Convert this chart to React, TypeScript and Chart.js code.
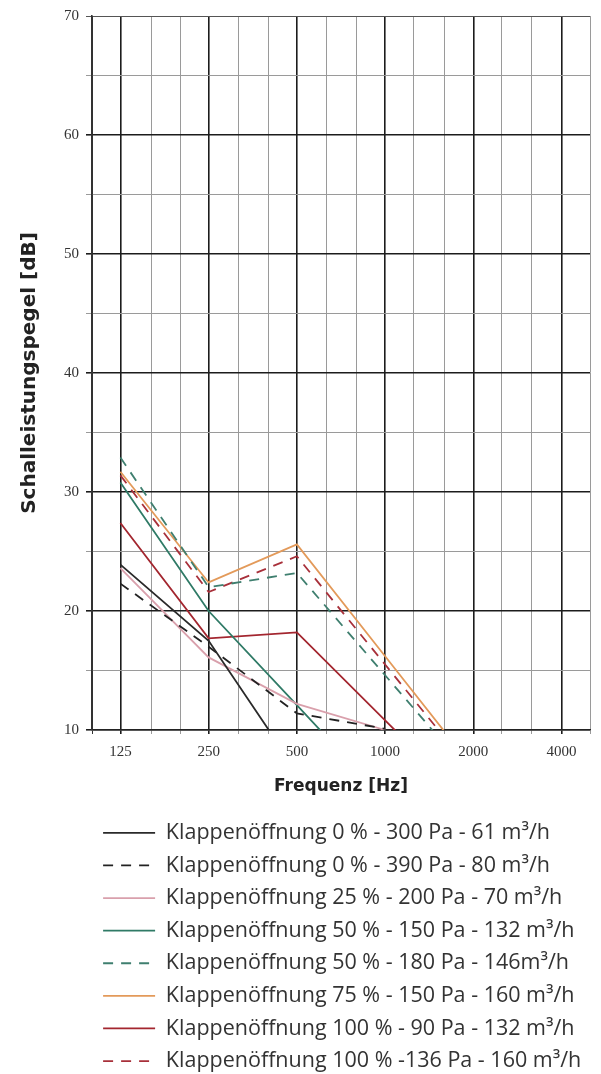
import React, { useEffect, useRef } from "react";
import { Chart, registerables } from "chart.js";

Chart.register(...registerables);

// Octave band centre frequencies (Hz) at which the curves are given
const frequencies = [125, 250, 500, 1000, 2000, 4000];
// Labelled x ticks
const octaveTickLabels = [125, 250, 500, 1000, 2000, 4000];
// 1/3-octave grid lines of the diagram paper
const thirdOctaveGrid = [100, 125, 160, 200, 250, 315, 400, 500, 630, 800, 1000, 1250, 1600, 2000, 2500, 3150, 4000, 5000];
// y axis
const yMin = 10;
const yMax = 70;
const yStep = 5;

// Series (sound power level, dB); values below 10 dB run out of the diagram
const seriesLabels = [
  "Klappenöffnung 0 % - 300 Pa - 61 m³/h",
  "Klappenöffnung 0 % - 390 Pa - 80 m³/h",
  "Klappenöffnung 25 % - 200 Pa - 70 m³/h",
  "Klappenöffnung 50 % - 150 Pa - 132 m³/h",
  "Klappenöffnung 50 % - 180 Pa - 146m³/h",
  "Klappenöffnung 75 % - 150 Pa - 160 m³/h",
  "Klappenöffnung 100 % - 90 Pa - 132 m³/h",
  "Klappenöffnung 100 % -136 Pa - 160 m³/h",
];
const open0_300 = [23.9, 17.5, 6.5, null, null, null];
const open0_390 = [22.3, 17.0, 11.4, 10.1, null, null];
const open25_200 = [23.6, 16.1, 12.2, 10.0, null, null];
const open50_150 = [30.8, 20.0, 12.1, 4.1, null, null];
const open50_180 = [32.9, 22.0, 23.2, 14.6, 6.0, null];
const open75_150 = [31.7, 22.4, 25.6, 16.2, 6.8, null];
const open100_90 = [27.4, 17.7, 18.2, 10.8, 3.5, null];
const open100_136 = [31.4, 21.6, 24.6, 15.5, 6.4, null];

const seriesValues = [open0_300, open0_390, open25_200, open50_150, open50_180, open75_150, open100_90, open100_136];
const seriesColors = ["#2a2a2a", "#222222", "#d9a0ac", "#2f7a66", "#3f7f6f", "#e39a5a", "#a3262f", "#a8303a"];
const seriesDashed = [false, true, false, false, true, false, false, true];

export default function App() {
  const canvasRef = useRef<HTMLCanvasElement | null>(null);

  useEffect(() => {
    document.body.style.overflow = "hidden";
    const canvas = canvasRef.current;
    if (!canvas) return;

    const datasets = seriesLabels.map((label, i) => ({
      label,
      data: frequencies.map((f, j) => ({ x: f, y: seriesValues[i][j] })),
      borderColor: seriesColors[i],
      backgroundColor: seriesColors[i],
      borderWidth: 1.8,
      borderDash: seriesDashed[i] ? [10, 8] : [],
      pointRadius: 0,
      tension: 0,
      spanGaps: false,
    }));

    const chart = new Chart(canvas, {
      type: "line",
      data: { datasets },
      options: {
        animation: false,
        responsive: true,
        maintainAspectRatio: false,
        layout: { padding: { left: 4, right: 3, top: 8, bottom: 2 } },
        plugins: {
          tooltip: { enabled: false },
          legend: {
            position: "bottom",
            fullSize: false,
            align: "start",
            maxHeight: 261,
            labels: {
              usePointStyle: true,
              pointStyle: "line",
              pointStyleWidth: 52,
              boxHeight: 21.5,
              padding: 11.1,
              color: "#333333",
              font: { family: "Open Sans", size: 21.5 },
              generateLabels: (c: any) => {
                const items = Chart.defaults.plugins.legend.labels.generateLabels(c);
                return items.map((it: any) => {
                  const ds: any = c.data.datasets[it.datasetIndex];
                  return {
                    ...it,
                    strokeStyle: ds.borderColor,
                    fillStyle: ds.borderColor,
                    lineWidth: ds.borderWidth,
                    lineDash: ds.borderDash,
                    lineDashOffset: 0,
                  };
                });
              },
            },
          },
        },
        scales: {
          x: {
            type: "logarithmic",
            min: thirdOctaveGrid[0],
            max: thirdOctaveGrid[thirdOctaveGrid.length - 1],
            afterBuildTicks: (scale: any) => {
              scale.ticks = thirdOctaveGrid.map((v) => ({ value: v }));
            },
            ticks: {
              autoSkip: false,
              maxRotation: 0,
              minRotation: 0,
              padding: 3,
              color: "#333333",
              font: { family: "Liberation Serif", size: 15, lineHeight: 2 },
              callback: (v: any) => (octaveTickLabels.includes(Number(v)) ? String(v) : ""),
            },
            grid: {
              tickLength: 4,
              color: (ctx: any) => {
                const v = ctx.tick ? ctx.tick.value : 0;
                if (octaveTickLabels.includes(v)) return "#1c1c1c";
                if (v === thirdOctaveGrid[0]) return "#333333";
                return "#9a9a9a";
              },
              lineWidth: (ctx: any) => {
                const v = ctx.tick ? ctx.tick.value : 0;
                return octaveTickLabels.includes(v) ? 1.6 : 1;
              },
            },
            border: { display: true, color: "#222222", width: 1.6 },
            title: {
              display: true,
              text: "Frequenz [Hz]",
              color: "#222222",
              font: { family: "DejaVu Sans", weight: "bold", size: 17 },
              padding: { top: 6, bottom: 14.6 },
            },
          },
          y: {
            type: "linear",
            min: yMin,
            max: yMax,
            ticks: {
              stepSize: yStep,
              padding: 7,
              color: "#333333",
              font: { family: "Liberation Serif", size: 15, lineHeight: 0.1 },
              callback: (v: any) => (Number(v) % 10 === 0 ? String(v) : ""),
            },
            grid: {
              tickLength: 6,
              color: (ctx: any) => {
                const v = ctx.tick ? ctx.tick.value : 0;
                if (v === yMax) return "#555555";
                return v % 10 === 0 ? "#1c1c1c" : "#9a9a9a";
              },
              lineWidth: (ctx: any) => {
                const v = ctx.tick ? ctx.tick.value : 0;
                return v % 10 === 0 && v !== yMax ? 1.6 : 1;
              },
            },
            border: { display: true, color: "#333333", width: 1.6 },
            title: {
              display: true,
              text: "Schalleistungspegel [dB]",
              color: "#222222",
              font: { family: "DejaVu Sans", weight: "bold", size: 20 },
              padding: { top: 6, bottom: 15 },
            },
          },
        },
      },
    });

    return () => {
      chart.destroy();
    };
  }, []);

  return (
    <div style={{ position: "relative", width: "100%", height: 1066 }}>
      <canvas ref={canvasRef} />
    </div>
  );
}
